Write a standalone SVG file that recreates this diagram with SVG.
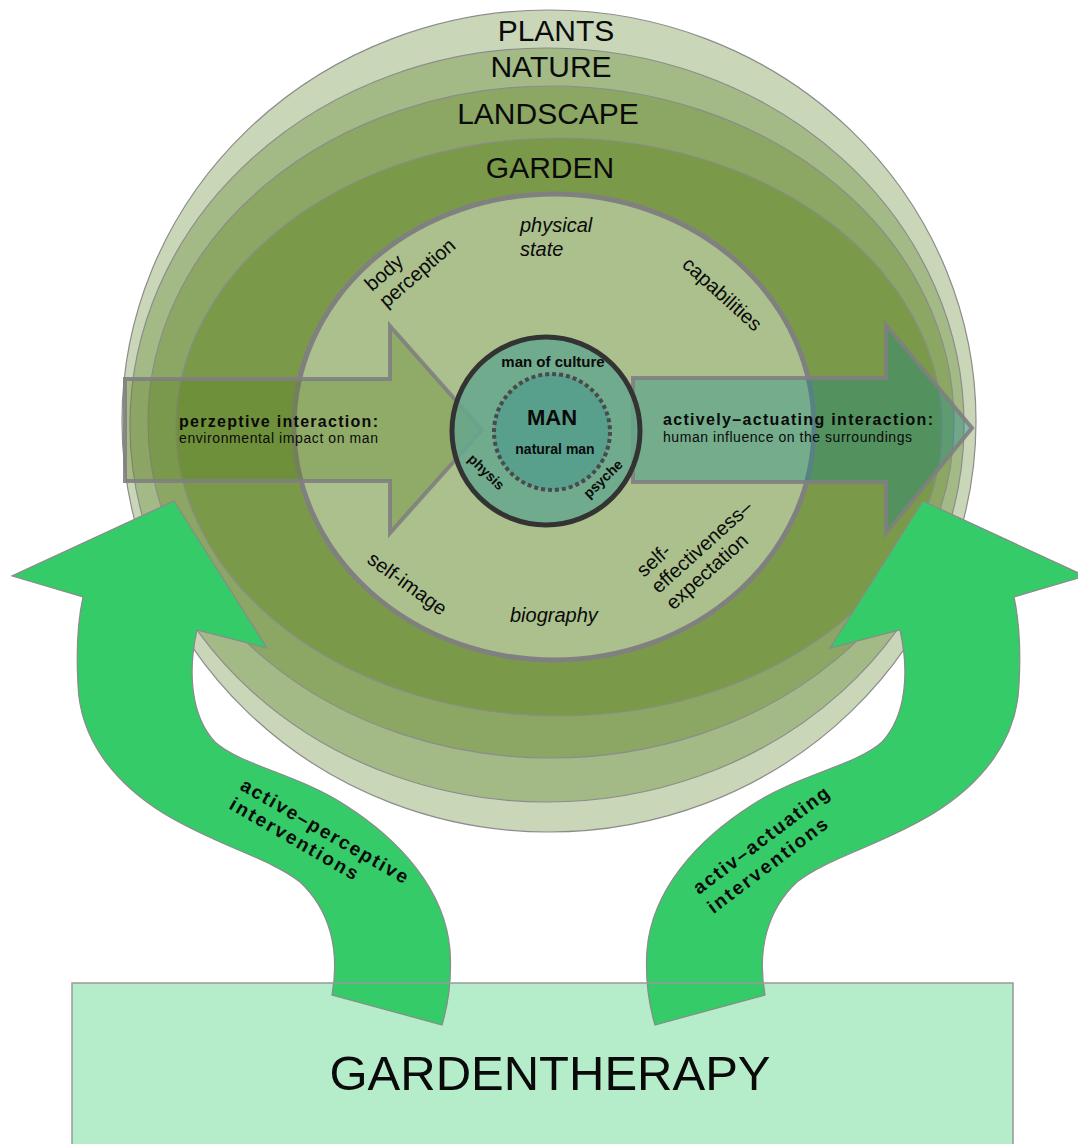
<svg xmlns="http://www.w3.org/2000/svg" width="1078" height="1144" viewBox="0 0 1078 1144">
<style>
text{font-family:"Liberation Sans",Arial,sans-serif;fill:#0a0a0a}
.ring{stroke:#8c8c8c;stroke-width:1.2}
.big{font-size:30px;text-anchor:middle}
.lbl{font-size:20px}
.it{font-style:italic}
.b{font-weight:bold}
.band{fill:#35cb68;stroke:#8a8a8a;stroke-width:1.2}
.arrow{stroke:#808080;stroke-opacity:0.9;stroke-width:4;stroke-linejoin:miter}
.mid{text-anchor:middle}
</style>
<rect width="1078" height="1144" fill="#ffffff"/>

<g id="layers">
  <ellipse id="plants" class="ring" cx="549" cy="421" rx="427" ry="411" fill="#c9d6b8"/>
  <ellipse id="nature" class="ring" cx="547" cy="425" rx="417" ry="377" fill="#a4ba86"/>
  <ellipse id="landscape" class="ring" cx="551" cy="422" rx="403" ry="336" fill="#8ba763"/>
  <ellipse id="garden" class="ring" cx="559" cy="427" rx="383" ry="289" fill="#7a9a4a"/>
  <ellipse id="self" cx="554" cy="427" rx="260" ry="233" fill="#abc08c" stroke="#808080" stroke-width="5"/>
</g>

<g id="connectors">
  <path id="perceptive-arrow" class="arrow" d="M125,379 H390 V326 L482,430 L390,533 V481 H125 Z" fill="#5a7d1e" fill-opacity="0.33"/>
  <path id="actuating-arrow" class="arrow" d="M633,378 H886 V325 L972,428 L886,533 V482 H633 Z" fill="#05828c" fill-opacity="0.33"/>
</g>

<g id="man">
  <circle cx="546" cy="431" r="94" fill="#66a78e" fill-opacity="0.85" stroke="#333333" stroke-width="5"/>
  <circle cx="552" cy="432" r="58" fill="#58a08c" stroke="#4a4a4a" stroke-width="4" stroke-dasharray="4 3"/>
  <text class="b mid" x="553" y="367" font-size="15">man of culture</text>
  <text class="b mid" x="552" y="425" font-size="22">MAN</text>
  <text class="b mid" x="555" y="454" font-size="14">natural man</text>
  <text class="b" font-size="14" transform="translate(467,460) rotate(44)">physis</text>
  <text class="b" font-size="14" transform="translate(589,499) rotate(-44)">psyche</text>
</g>

<g id="gardentherapy-fill">
  <rect x="72" y="983" width="941" height="170" fill="#b5edca"/>
</g>

<g id="bands">
  <path id="band-left" class="band" d="M332,995 C340,950 330,910 300,882 C270,858 215,845 163,813 C115,783 80,740 78,685 C76,650 78,620 83,597 L12,576 L174,501 L267,648 L197,630 C188,670 190,715 215,742 C240,765 300,775 345,805 C400,840 445,890 450,950 C452,980 448,1005 442,1025 Z"/>
  <path id="band-right" class="band" transform="matrix(-1 0 0 1 1097 0)" d="M332,995 C340,950 330,910 300,882 C270,858 215,845 163,813 C115,783 80,740 78,685 C76,650 78,620 83,597 L12,576 L174,501 L267,648 L197,630 C188,670 190,715 215,742 C240,765 300,775 345,805 C400,840 445,890 450,950 C452,980 448,1005 442,1025 Z"/>
</g>

<g id="gardentherapy">
  <rect x="72" y="983" width="941" height="170" fill="none" stroke="#999999" stroke-width="1.5"/>
  <text class="mid" x="550" y="1090" font-size="49">GARDENTHERAPY</text>
</g>

<g id="layer-labels">
  <text class="big" x="556" y="41">PLANTS</text>
  <text class="big" x="551" y="77">NATURE</text>
  <text class="big" x="548" y="124">LANDSCAPE</text>
  <text class="big" x="550" y="178">GARDEN</text>
</g>

<g id="aspects">
  <text class="lbl it" x="520" y="232">physical</text>
  <text class="lbl it" x="520" y="256">state</text>
  <g transform="translate(372,292) rotate(-41)">
    <text class="lbl" x="0" y="0">body</text>
    <text class="lbl" x="0" y="22">perception</text>
  </g>
  <text class="lbl" transform="translate(681,266) rotate(42)">capabilities</text>
  <text class="lbl" transform="translate(366,562) rotate(36)">self-image</text>
  <text class="lbl it" x="510" y="622">biography</text>
  <g transform="translate(644,578) rotate(-42)">
    <text class="lbl" x="0" y="0">self-</text>
    <text class="lbl" x="0" y="22">effectiveness–</text>
    <text class="lbl" x="0" y="44">expectation</text>
  </g>
</g>

<g id="arrow-labels">
  <text class="b" x="179" y="427" font-size="16" textLength="199" lengthAdjust="spacing">perzeptive interaction:</text>
  <text x="179" y="443" font-size="14" textLength="199" lengthAdjust="spacing">environmental impact on man</text>
  <text class="b" x="663" y="425" font-size="16" textLength="270" lengthAdjust="spacing">actively–actuating interaction:</text>
  <text x="663" y="442" font-size="14" textLength="249" lengthAdjust="spacing">human influence on the surroundings</text>
</g>

<g id="band-labels">
  <g transform="translate(239,789) rotate(30)">
    <text class="b" x="0" y="0" font-size="19" textLength="190" lengthAdjust="spacing">active–perceptive</text>
    <text class="b" x="0" y="22" font-size="19" textLength="145" lengthAdjust="spacing">interventions</text>
  </g>
  <g transform="translate(699,895) rotate(-37)">
    <text class="b" x="0" y="0" font-size="19" textLength="165" lengthAdjust="spacing">activ–actuating</text>
    <text class="b" x="0" y="24" font-size="19" textLength="145" lengthAdjust="spacing">interventions</text>
  </g>
</g>
</svg>
